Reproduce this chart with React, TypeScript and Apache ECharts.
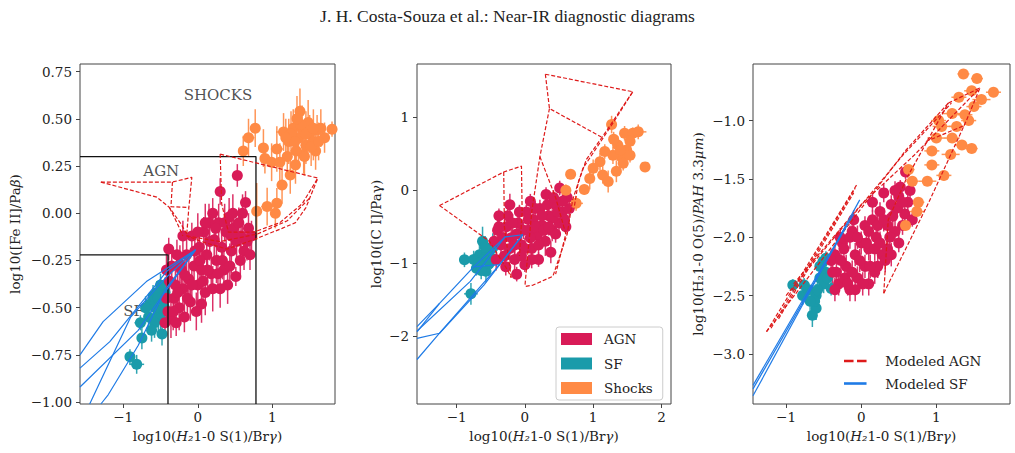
import React, { useEffect, useRef } from "react";
import * as echarts from "echarts";

// ---------- DATA ----------
const TITLE = "J. H. Costa-Souza et al.: Near-IR diagnostic diagrams";

// tick values
const X_TICKS_1 = [-1, 0, 1];
const Y_TICKS_1 = [-1, -0.75, -0.5, -0.25, 0, 0.25, 0.5, 0.75];
const X_TICKS_2 = [-1, 0, 1, 2];
const Y_TICKS_2 = [-2, -1, 0, 1];
const X_TICKS_3 = [-1, 0, 1];
const Y_TICKS_3 = [-3, -2.5, -2, -1.5, -1];

// axis ranges
const RANGE_1 = { xmin: -1.58, xmax: 1.84, ymin: -1.01, ymax: 0.79 };
const RANGE_2 = { xmin: -1.58, xmax: 2.14, ymin: -2.93, ymax: 1.73 };
const RANGE_3 = { xmin: -1.44, xmax: 1.98, ymin: -3.43, ymax: -0.515 };

// [x, y, xerr, yerr]
const p1AGN = [
  [-0.39, -0.19, 0.06, 0.06], [-0.35, -0.28, 0.05, 0.1], [-0.38, -0.36, 0.05, 0.08], [-0.32, -0.45, 0.05, 0.1],
  [-0.4, -0.52, 0.04, 0.08], [-0.36, -0.56, 0.05, 0.1], [-0.29, -0.58, 0.03, 0.07], [-0.25, -0.5, 0.05, 0.12],
  [-0.2, -0.4, 0.06, 0.1], [-0.22, -0.3, 0.05, 0.09], [-0.15, -0.22, 0.05, 0.1], [-0.12, -0.35, 0.05, 0.12],
  [-0.1, -0.47, 0.05, 0.1], [-0.05, -0.28, 0.06, 0.1], [0.0, -0.38, 0.04, 0.12], [0.02, -0.18, 0.05, 0.08],
  [0.05, -0.3, 0.06, 0.1], [0.08, -0.1, 0.05, 0.08], [0.1, -0.42, 0.05, 0.12], [0.12, -0.22, 0.05, 0.1],
  [0.15, -0.05, 0.06, 0.1], [0.18, -0.32, 0.05, 0.1], [0.22, -0.14, 0.05, 0.09], [0.25, -0.25, 0.05, 0.12],
  [0.28, -0.05, 0.04, 0.1], [0.3, 0.115, 0.04, 0.07], [0.32, -0.18, 0.05, 0.1], [0.35, -0.3, 0.05, 0.1],
  [0.38, -0.1, 0.05, 0.08], [0.42, -0.02, 0.05, 0.1], [0.45, -0.2, 0.05, 0.12], [0.48, -0.08, 0.05, 0.1],
  [0.52, -0.15, 0.04, 0.09], [0.53, 0.2, 0.06, 0.06], [0.55, -0.05, 0.05, 0.08], [0.51, -0.335, 0.03, 0.05],
  [0.58, -0.12, 0.05, 0.1], [0.62, -0.2, 0.04, 0.1], [0.64, 0.057, 0.04, 0.06], [0.68, -0.08, 0.05, 0.08],
  [0.7, -0.22, 0.04, 0.08], [-0.28, -0.22, 0.05, 0.08], [-0.18, -0.55, 0.04, 0.08], [-0.08, -0.12, 0.05, 0.07],
  [0.05, -0.48, 0.05, 0.1], [0.2, 0.0, 0.05, 0.08], [0.4, -0.38, 0.04, 0.1], [-0.3, -0.38, 0.05, 0.1],
  [0.1, -0.05, 0.05, 0.1], [-0.42, -0.3, 0.05, 0.1], [-0.42, -0.45, 0.05, 0.1], [-0.44, -0.58, 0.04, 0.06],
  [-0.33, -0.52, 0.05, 0.1], [-0.27, -0.42, 0.05, 0.12], [-0.24, -0.27, 0.05, 0.1], [-0.17, -0.33, 0.05, 0.1],
  [-0.14, -0.45, 0.05, 0.12], [-0.08, -0.38, 0.05, 0.1], [-0.04, -0.2, 0.05, 0.1], [-0.02, -0.52, 0.05, 0.1],
  [0.03, -0.25, 0.05, 0.1], [0.07, -0.36, 0.05, 0.12], [0.13, -0.3, 0.05, 0.1], [0.16, -0.15, 0.05, 0.1],
  [0.2, -0.4, 0.05, 0.12], [0.24, -0.08, 0.05, 0.1], [0.27, -0.32, 0.05, 0.1], [0.33, -0.25, 0.05, 0.1],
  [0.36, -0.05, 0.05, 0.1], [0.43, -0.28, 0.05, 0.12], [0.47, 0.0, 0.05, 0.1], [0.57, -0.25, 0.05, 0.1],
  [0.6, 0.0, 0.05, 0.1], [0.66, -0.15, 0.05, 0.1], [0.72, -0.12, 0.04, 0.08], [0.45, -0.12, 0.05, 0.1],
  [0.3, -0.4, 0.05, 0.1], [-0.2, -0.12, 0.05, 0.08], [0.0, -0.1, 0.05, 0.1],
];
const p1SF = [
  [-0.64, -0.48, 0.06, 0.06], [-0.48, -0.46, 0.05, 0.08], [-0.53, -0.53, 0.05, 0.1], [-0.77, -0.58, 0.08, 0.04],
  [-0.75, -0.66, 0.05, 0.06], [-0.48, -0.64, 0.04, 0.06], [-0.91, -0.76, 0.04, 0.04], [-0.82, -0.8, 0.1, 0.05],
  [-0.44, -0.42, 0.04, 0.08], [-0.57, -0.5, 0.05, 0.08], [-0.66, -0.55, 0.05, 0.07], [-0.5, -0.38, 0.04, 0.06],
  [-0.6, -0.44, 0.05, 0.06], [-0.55, -0.42, 0.05, 0.06], [-0.5, -0.56, 0.05, 0.08], [-0.45, -0.5, 0.04, 0.08],
  [-0.58, -0.58, 0.05, 0.08], [-0.7, -0.5, 0.05, 0.06], [-0.62, -0.62, 0.05, 0.06], [-0.53, -0.45, 0.05, 0.06],
];
const p1Shocks = [
  [0.77, 0.45, 0.06, 0.1], [0.68, 0.4, 0.08, 0.1], [0.61, 0.33, 0.06, 0.08], [0.88, 0.345, 0.05, 0.1],
  [0.9, 0.29, 0.05, 0.08], [0.99, 0.27, 0.06, 0.1], [1.06, 0.34, 0.08, 0.12], [1.13, 0.15, 0.07, 0.1],
  [0.93, 0.035, 0.08, 0.1], [1.06, 0.053, 0.06, 0.08], [0.79, 0.01, 0.05, 0.15], [1.04, 0.0, 0.05, 0.08],
  [1.37, 0.54, 0.06, 0.12], [1.8, 0.445, 0.05, 0.04], [1.31, 0.256, 0.06, 0.1], [1.24, 0.203, 0.05, 0.1],
  [1.42, 0.31, 0.06, 0.1], [1.7, 0.4, 0.06, 0.08], [1.15, 0.43, 0.1, 0.1], [1.22, 0.38, 0.08, 0.12],
  [1.28, 0.45, 0.06, 0.1], [1.35, 0.4, 0.1, 0.15], [1.4, 0.45, 0.08, 0.12], [1.45, 0.36, 0.07, 0.1],
  [1.5, 0.42, 0.08, 0.1], [1.55, 0.38, 0.06, 0.1], [1.6, 0.44, 0.07, 0.08], [1.48, 0.48, 0.06, 0.12],
  [1.32, 0.33, 0.08, 0.1], [1.58, 0.33, 0.05, 0.1], [1.65, 0.45, 0.05, 0.1], [1.2, 0.3, 0.07, 0.1],
  [1.1, 0.27, 0.06, 0.1], [1.25, 0.42, 0.08, 0.12], [1.38, 0.47, 0.06, 0.1], [1.45, 0.42, 0.08, 0.12],
  [1.52, 0.35, 0.06, 0.1], [1.62, 0.38, 0.06, 0.1], [1.3, 0.38, 0.08, 0.12], [1.18, 0.4, 0.06, 0.1],
  [1.33, 0.5, 0.06, 0.12], [1.43, 0.3, 0.06, 0.1], [1.55, 0.45, 0.07, 0.1],
];

const p2AGN = [
  [-0.4, -0.55, 0.05, 0.15], [-0.35, -0.75, 0.05, 0.2], [-0.3, -0.9, 0.05, 0.15], [-0.25, -0.35, 0.06, 0.1],
  [-0.2, -0.65, 0.05, 0.2], [-0.15, -0.95, 0.05, 0.15], [-0.1, -0.45, 0.05, 0.15], [-0.05, -0.75, 0.06, 0.2],
  [0.0, -1.02, 0.05, 0.1], [0.02, -0.3, 0.05, 0.1], [0.05, -0.55, 0.06, 0.15], [0.1, -0.8, 0.05, 0.2],
  [0.12, -0.4, 0.05, 0.12], [0.18, -0.62, 0.05, 0.15], [0.22, -0.25, 0.05, 0.12], [0.25, -0.48, 0.06, 0.15],
  [0.3, -0.7, 0.05, 0.2], [0.31, -0.06, 0.05, 0.1], [0.35, -0.35, 0.05, 0.12], [0.4, -0.55, 0.06, 0.15],
  [0.45, -0.2, 0.05, 0.12], [0.51, 0.03, 0.05, 0.1], [0.5, -0.45, 0.05, 0.12], [0.55, -0.3, 0.05, 0.12],
  [0.6, -0.5, 0.05, 0.1], [0.65, -0.25, 0.05, 0.12], [-0.38, -0.35, 0.05, 0.1], [-0.28, -1.05, 0.05, 0.12],
  [-0.12, -1.15, 0.05, 0.1], [0.08, -0.15, 0.05, 0.1], [-0.42, -0.95, 0.05, 0.15], [0.2, -0.95, 0.05, 0.1],
  [0.62, -0.1, 0.05, 0.1], [-0.22, -0.2, 0.05, 0.15], [0.38, -0.85, 0.05, 0.15], [-0.45, -0.7, 0.05, 0.15],
  [-0.38, -0.5, 0.05, 0.12], [-0.32, -0.65, 0.05, 0.15], [-0.27, -0.5, 0.05, 0.12], [-0.22, -0.8, 0.05, 0.15],
  [-0.18, -0.45, 0.05, 0.12], [-0.12, -0.6, 0.05, 0.15], [-0.08, -0.3, 0.05, 0.1], [-0.02, -0.55, 0.05, 0.12],
  [0.0, -0.8, 0.05, 0.15], [0.05, -0.4, 0.05, 0.12], [0.08, -0.65, 0.05, 0.15], [0.15, -0.5, 0.05, 0.12],
  [0.15, -0.25, 0.05, 0.1], [0.2, -0.75, 0.05, 0.15], [0.25, -0.35, 0.05, 0.12], [0.28, -0.55, 0.05, 0.12],
  [0.33, -0.2, 0.05, 0.1], [0.4, -0.38, 0.05, 0.12], [0.42, -0.1, 0.05, 0.1], [0.48, -0.3, 0.05, 0.12],
  [0.55, -0.15, 0.05, 0.1], [0.58, -0.4, 0.05, 0.12], [0.45, -0.6, 0.05, 0.12], [-0.15, -0.75, 0.05, 0.15],
  [0.1, -0.95, 0.05, 0.12], [-0.05, -0.9, 0.05, 0.12], [0.35, -0.5, 0.05, 0.12],
];
const p2SF = [
  [-0.885, -0.954, 0.05, 0.1], [-0.665, -0.886, 0.06, 0.15], [-0.79, -1.42, 0.1, 0.15], [-0.62, -0.7, 0.05, 0.2],
  [-0.57, -1.11, 0.05, 0.15], [-0.49, -0.93, 0.05, 0.15], [-0.71, -1.07, 0.05, 0.1], [-0.47, -0.79, 0.05, 0.2],
  [-0.55, -0.85, 0.05, 0.15], [-0.75, -0.95, 0.06, 0.12], [-0.6, -0.95, 0.05, 0.12], [-0.52, -1.0, 0.05, 0.12],
  [-0.68, -1.0, 0.05, 0.1], [-0.58, -0.78, 0.05, 0.15], [-0.64, -1.1, 0.05, 0.12],
];
const p2Shocks = [
  [0.67, 0.22, 0.05, 0.06], [0.6, 0.0, 0.06, 0.08], [0.87, 0.01, 0.05, 0.05], [0.75, -0.18, 0.1, 0.1],
  [0.95, 0.16, 0.06, 0.15], [1.14, 0.21, 0.08, 0.12], [1.22, 0.12, 0.06, 0.15], [1.27, 0.9, 0.05, 0.12],
  [1.34, 0.26, 0.06, 0.15], [1.41, 0.46, 0.05, 0.12], [1.29, 0.48, 0.06, 0.12], [1.46, 0.78, 0.05, 0.1],
  [1.58, 0.78, 0.1, 0.08], [1.66, 0.8, 0.12, 0.1], [1.76, 0.32, 0.04, 0.04], [1.54, 0.67, 0.06, 0.1],
  [1.49, 0.55, 0.05, 0.1], [1.1, 0.39, 0.05, 0.12], [1.17, 0.53, 0.06, 0.1], [1.36, 0.62, 0.08, 0.12],
  [1.0, 0.3, 0.05, 0.12], [1.44, 0.37, 0.06, 0.1], [1.54, 0.48, 0.05, 0.1], [1.3, 0.7, 0.06, 0.1],
  [1.4, 0.55, 0.06, 0.12],
];

const p3AGN = [
  [-0.38, -2.3, 0.04, 0.1], [-0.35, -2.15, 0.05, 0.08], [-0.3, -2.4, 0.04, 0.1], [-0.25, -2.05, 0.05, 0.08],
  [-0.2, -2.25, 0.05, 0.1], [-0.15, -2.45, 0.04, 0.1], [-0.12, -1.95, 0.05, 0.08], [-0.08, -2.15, 0.05, 0.1],
  [-0.05, -2.35, 0.04, 0.1], [0.0, -2.05, 0.05, 0.1], [0.05, -1.9, 0.05, 0.08], [0.05, -2.25, 0.04, 0.1],
  [0.1, -2.1, 0.05, 0.1], [0.15, -1.85, 0.05, 0.08], [0.18, -2.3, 0.05, 0.1], [0.2, -2.0, 0.05, 0.1],
  [0.25, -1.78, 0.05, 0.08], [0.28, -2.15, 0.04, 0.1], [0.35, -1.9, 0.05, 0.1], [0.35, -2.1, 0.04, 0.1],
  [0.4, -1.72, 0.05, 0.08], [0.45, -1.95, 0.05, 0.1], [0.5, -1.65, 0.05, 0.08], [0.5, -2.05, 0.05, 0.08],
  [0.52, -1.57, 0.04, 0.06], [0.59, -1.44, 0.04, 0.06], [0.58, -1.8, 0.05, 0.08], [0.62, -1.7, 0.04, 0.08],
  [0.68, -1.85, 0.04, 0.06], [-0.28, -2.0, 0.04, 0.08], [-0.1, -1.85, 0.05, 0.08], [0.1, -2.4, 0.04, 0.1],
  [0.3, -1.62, 0.05, 0.08], [-0.22, -2.35, 0.05, 0.1], [0.22, -2.25, 0.04, 0.1], [-0.4, -2.2, 0.04, 0.1],
  [-0.33, -2.3, 0.04, 0.1], [-0.27, -2.2, 0.04, 0.1], [-0.23, -2.1, 0.04, 0.1], [-0.18, -2.4, 0.04, 0.1],
  [-0.15, -2.0, 0.04, 0.1], [-0.12, -2.3, 0.04, 0.1], [-0.05, -2.0, 0.04, 0.1], [-0.02, -2.2, 0.04, 0.1],
  [0.02, -2.4, 0.04, 0.1], [0.07, -2.05, 0.04, 0.1], [0.1, -1.95, 0.04, 0.1], [0.12, -2.25, 0.04, 0.1],
  [0.18, -2.1, 0.04, 0.1], [0.22, -1.9, 0.04, 0.1], [0.25, -2.05, 0.04, 0.1], [0.3, -1.85, 0.04, 0.1],
  [0.32, -2.2, 0.04, 0.1], [0.38, -2.0, 0.04, 0.1], [0.42, -1.82, 0.04, 0.1], [0.45, -1.6, 0.04, 0.08],
  [0.48, -1.75, 0.04, 0.08], [0.55, -1.7, 0.04, 0.08], [0.55, -1.9, 0.04, 0.08], [0.65, -1.6, 0.04, 0.08],
  [-0.35, -2.45, 0.04, 0.1], [-0.08, -2.45, 0.04, 0.1], [0.15, -1.7, 0.04, 0.08], [0.4, -2.15, 0.04, 0.1],
];
const p3SF = [
  [-0.91, -2.41, 0.05, 0.05], [-0.76, -2.41, 0.05, 0.06], [-0.78, -2.5, 0.05, 0.08], [-0.51, -2.21, 0.05, 0.06],
  [-0.47, -2.3, 0.05, 0.08], [-0.6, -2.5, 0.05, 0.1], [-0.6, -2.61, 0.05, 0.1], [-0.65, -2.67, 0.04, 0.1],
  [-0.4, -2.44, 0.04, 0.06], [-0.47, -2.18, 0.05, 0.06], [-0.55, -2.35, 0.05, 0.08], [-0.62, -2.55, 0.05, 0.1],
  [-0.7, -2.45, 0.05, 0.06], [-0.5, -2.4, 0.05, 0.08], [-0.55, -2.25, 0.05, 0.08], [-0.45, -2.35, 0.05, 0.08],
  [-0.58, -2.45, 0.05, 0.08], [-0.68, -2.55, 0.05, 0.08],
];
const p3Shocks = [
  [1.36, -0.6, 0.08, 0.02], [1.54, -0.64, 0.08, 0.02], [1.47, -0.745, 0.1, 0.03], [1.76, -0.757, 0.1, 0.03],
  [1.6, -0.82, 0.12, 0.03], [1.38, -0.95, 0.1, 0.03], [1.21, -0.94, 0.12, 0.03], [1.07, -1.05, 0.12, 0.03],
  [1.27, -1.05, 0.1, 0.03], [1.43, -1.0, 0.1, 0.03], [1.0, -1.15, 0.12, 0.03], [1.21, -1.15, 0.1, 0.03],
  [1.34, -1.21, 0.1, 0.03], [1.47, -1.24, 0.08, 0.03], [1.19, -1.29, 0.12, 0.03], [0.94, -1.38, 0.1, 0.03],
  [1.1, -1.47, 0.1, 0.03], [0.88, -1.52, 0.12, 0.03], [0.68, -1.52, 0.08, 0.03], [0.76, -1.7, 0.08, 0.03],
  [0.74, -1.78, 0.1, 0.03], [0.59, -1.9, 0.06, 0.03], [0.63, -1.42, 0.08, 0.03], [0.94, -1.26, 0.1, 0.03],
  [1.03, -1.0, 0.1, 0.03], [1.5, -0.88, 0.1, 0.03], [1.3, -0.8, 0.1, 0.03],
];

// model grids (polylines)
const p1ModelAGN = [
  [[-1.3, 0.165], [-0.34, 0.165], [-0.08, 0.19], [-0.12, 0.03], [-0.15, -0.12]],
  [[-1.3, 0.165], [-0.55, 0.085], [-0.38, 0.03], [-0.22, -0.06], [-0.12, -0.13]],
  [[-0.34, 0.165], [-0.36, 0.035], [-0.12, 0.03]],
  [[-0.38, 0.03], [-0.28, -0.05], [-0.2, -0.12]],
  [[0.3, 0.313], [1.61, 0.186], [1.45, 0.03], [1.31, -0.05], [1.13, -0.08], [0.75, -0.14], [0.39, -0.19], [0.05, -0.15], [-0.15, -0.12]],
  [[0.3, 0.313], [0.32, 0.05], [0.41, -0.1], [0.75, -0.1], [1.1, -0.05], [1.4, 0.05], [1.61, 0.186]],
  [[-0.15, -0.12], [0.3, -0.15], [0.8, -0.11], [1.2, -0.04], [1.5, 0.08]],
];
const p1ModelSF = [
  [[-0.03, -0.194], [-0.69, -0.362], [-1.27, -0.574], [-1.58, -0.75]],
  [[-0.03, -0.194], [-0.42, -0.309], [-1.18, -0.68], [-1.58, -0.82]],
  [[-0.03, -0.194], [-0.5, -0.45], [-0.8, -0.62], [-1.58, -0.92]],
  [[-0.03, -0.194], [-0.43, -0.4], [-0.8, -0.7], [-1.2, -0.96], [-1.3, -1.01]],
  [[-0.03, -0.194], [-0.45, -0.35], [-0.9, -0.55], [-1.45, -1.01]],
];
const p2ModelAGN = [
  [[0.3, 1.59], [1.58, 1.35], [1.29, 0.92], [0.85, 0.3], [0.7, -0.13], [0.62, -0.6], [0.41, -1.18], [0.12, -1.3], [0.0, -1.32]],
  [[0.3, 1.59], [0.36, 1.12], [1.12, 0.73]],
  [[0.36, 1.12], [0.22, 0.46], [0.1, -0.3], [0.05, -0.8], [0.0, -1.32]],
  [[0.22, 0.46], [0.45, -0.1], [0.6, -0.6], [0.45, -1.15]],
  [[-1.25, -0.21], [-0.31, 0.25], [-0.05, 0.33], [-0.04, -0.3], [-0.08, -0.9]],
  [[-1.25, -0.21], [-0.52, -0.7], [-0.25, -1.1], [-0.2, -1.2]],
  [[-0.31, 0.25], [-0.3, -0.5], [-0.2, -1.2]],
  [[1.58, 1.35], [1.2, 0.82], [0.9, 0.42], [0.78, 0.1], [0.72, -0.25]],
];
const p2ModelSF = [
  [[-0.03, -0.61], [-0.29, -0.64], [-0.75, -1.05], [-1.25, -1.55], [-1.58, -1.87]],
  [[-0.03, -0.61], [-0.37, -1.02], [-0.75, -1.05]],
  [[-0.29, -0.64], [-0.8, -1.25], [-1.58, -1.93]],
  [[-0.03, -0.61], [-0.6, -1.3], [-1.25, -1.96], [-1.58, -2.03]],
  [[-0.37, -1.02], [-1.25, -1.96], [-1.58, -2.32]],
  [[-1.25, -1.55], [-1.58, -1.94]],
];
const p3ModelAGN = [
  [[-1.26, -2.81], [-0.05, -1.54]],
  [[-1.2, -2.78], [-0.08, -1.58]],
  [[-1.1, -2.7], [-0.1, -1.62]],
  [[-1.26, -2.81], [0.6, -1.25], [1.16, -0.85]],
  [[-1.0, -2.5], [0.55, -1.3], [1.2, -0.85]],
  [[-0.9, -2.4], [0.0, -1.72], [0.7, -1.3], [1.58, -0.72]],
  [[0.3, -2.48], [0.36, -1.85], [0.6, -1.5], [1.16, -0.85]],
  [[0.3, -2.48], [0.9, -1.7], [1.4, -1.0], [1.58, -0.72]],
  [[1.16, -0.85], [1.58, -0.72]],
  [[0.86, -1.18], [1.38, -1.04]],
];
const p3ModelSF = [
  [[-1.44, -3.36], [-0.02, -1.68]],
  [[-1.44, -3.3], [-0.1, -1.8]],
  [[-1.44, -3.27], [-0.2, -1.9]],
];

// diagnostic region boundaries (panel 1)
const p1Bounds = [
  [[-1.58, 0.3], [0.78, 0.3], [0.78, -1.01]],
  [[-1.58, -0.22], [-0.4, -0.22], [-0.4, -1.01]],
];
const p1RegionLabels = [
  { name: "SHOCKS", value: [0.27, 0.627] },
  { name: "AGN", value: [-0.49, 0.224] },
  { name: "SF", value: [-0.86, -0.52] },
];

// ---------- STYLE ----------
const FONT = "'DejaVu Serif', serif";
const C_AGN = "#d81b57";
const C_SF = "#1a9baa";
const C_SH = "#ff8a45";
const C_MAGN = "#de1a1a";
const C_MSF = "#1f7be6";
const TXT = "#222";
const AX = "#444";

const GRIDS = [
  { left: 80, top: 64, width: 255, height: 340 },
  { left: 417, top: 64, width: 254, height: 340 },
  { left: 753, top: 64, width: 257, height: 340 },
];

const minus = (s: string) => s.replace("-", "\u2212");

const RICH = {
  i: { fontStyle: "italic", fontFamily: FONT, fontSize: 13.5, color: TXT },
};

function errSeries(data: number[][], idx: number, color: string) {
  return {
    type: "custom",
    xAxisIndex: idx,
    yAxisIndex: idx,
    data,
    clip: true,
    silent: true,
    z: 2,
    encode: { x: 0, y: 1 },
    renderItem: (params: any, api: any) => {
      const x = api.value(0), y = api.value(1), ex = api.value(2), ey = api.value(3);
      const a = api.coord([x - ex, y]), b = api.coord([x + ex, y]);
      const c = api.coord([x, y - ey]), d = api.coord([x, y + ey]);
      const st = { stroke: color, lineWidth: 1.5, opacity: 0.9 };
      return {
        type: "group",
        children: [
          { type: "line", shape: { x1: a[0], y1: a[1], x2: b[0], y2: b[1] }, style: st },
          { type: "line", shape: { x1: c[0], y1: c[1], x2: d[0], y2: d[1] }, style: st },
        ],
      };
    },
  };
}

function ptSeries(name: string, data: number[][], idx: number, color: string) {
  return {
    type: "scatter",
    name,
    xAxisIndex: idx,
    yAxisIndex: idx,
    data: data.map((d) => [d[0], d[1]]),
    symbolSize: 11,
    itemStyle: { color, opacity: 1 },
    silent: true,
    z: 2,
  };
}

function lineSeries(name: string, lines: number[][][], idx: number, color: string, dashed: boolean, width = 1.2) {
  return lines.map((pts) => ({
    type: "line",
    name,
    xAxisIndex: idx,
    yAxisIndex: idx,
    data: pts,
    symbol: "none",
    color,
    silent: true,
    z: 3,
    lineStyle: { color, width, type: dashed ? [4, 2] : "solid" },
  }));
}

function xAxisCfg(idx: number, r: any, ticks: number[], fmt: (v: number) => string) {
  return {
    type: "value",
    gridIndex: idx,
    min: r.xmin,
    max: r.xmax,
    axisLine: { show: false, onZero: false },
    splitLine: { show: false },
    axisTick: { show: true, length: 4, lineStyle: { color: AX }, customValues: ticks },
    axisLabel: { customValues: ticks, formatter: fmt, fontFamily: FONT, fontSize: 13.5, color: TXT, margin: 6 },
    name: "log10({i|H\u2082}1-0 S(1)/Br{i|\u03b3})",
    nameLocation: "middle",
    nameGap: 25,
    nameTextStyle: { fontFamily: FONT, fontSize: 13.5, color: TXT, rich: RICH },
  };
}

function yAxisCfg(idx: number, r: any, ticks: number[], fmt: (v: number) => string, name: string, gap: number) {
  return {
    type: "value",
    gridIndex: idx,
    min: r.ymin,
    max: r.ymax,
    axisLine: { show: false, onZero: false },
    splitLine: { show: false },
    axisTick: { show: true, length: 4, lineStyle: { color: AX }, customValues: ticks },
    axisLabel: { customValues: ticks, formatter: fmt, fontFamily: FONT, fontSize: 13.5, color: TXT, margin: 8 },
    name,
    nameLocation: "middle",
    nameGap: gap,
    nameTextStyle: { fontFamily: FONT, fontSize: 13.5, color: TXT, rich: RICH },
  };
}

export default function App() {
  const ref = useRef<HTMLDivElement>(null);
  useEffect(() => {
    if (!ref.current) return;
    const chart = echarts.init(ref.current, undefined, { renderer: "svg" });
    const intFmt = (v: number) => minus(String(v));
    const option: any = {
      animation: false,
      backgroundColor: "#fff",
      title: {
        text: TITLE,
        left: "center",
        top: 2,
        textStyle: { fontFamily: "'Liberation Serif', serif", fontSize: 17.5, fontWeight: "normal", color: TXT },
      },
      grid: GRIDS.map((g) => ({ ...g, show: true, borderColor: AX, borderWidth: 1, backgroundColor: "transparent" })),
      xAxis: [
        xAxisCfg(0, RANGE_1, X_TICKS_1, intFmt),
        xAxisCfg(1, RANGE_2, X_TICKS_2, intFmt),
        xAxisCfg(2, RANGE_3, X_TICKS_3, intFmt),
      ],
      yAxis: [
        yAxisCfg(0, RANGE_1, Y_TICKS_1, (v) => minus(v.toFixed(2)), "log10([Fe II]/Pa{i|\u03b2})", 58),
        yAxisCfg(1, RANGE_2, Y_TICKS_2, intFmt, "log10([C I]/Pa\u03b3)", 34),
        yAxisCfg(2, RANGE_3, Y_TICKS_3, (v) => minus(v.toFixed(1)), "log10(H\u20821-0 O(5)/{i|PAH} 3.3{i|\u03bcm})", 48),
      ],
      legend: [
        {
          data: [
            { name: "AGN", icon: "rect" },
            { name: "SF", icon: "rect" },
            { name: "Shocks", icon: "rect" },
          ],
          orient: "vertical",
          left: 556,
          top: 327,
          itemWidth: 31,
          itemHeight: 12,
          itemGap: 10.5,
          padding: [5, 10, 5, 5],
          backgroundColor: "#fff",
          borderColor: "#cccccc",
          borderWidth: 1,
          borderRadius: 3,
          selectedMode: false,
          textStyle: { fontFamily: FONT, fontSize: 13.5, color: TXT, padding: [0, 0, 0, 7] },
        },
        {
          data: [
            { name: "Modeled AGN", icon: "path://M0,0h11v3h-11z M15,0h11v3h-11z" },
            { name: "Modeled SF", icon: "path://M0,0h26v3h-26z" },
          ],
          orient: "vertical",
          left: 844,
          top: 353,
          itemWidth: 26,
          itemHeight: 2.6,
          itemGap: 6.5,
          padding: 0,
          selectedMode: false,
          textStyle: { fontFamily: FONT, fontSize: 13.5, color: TXT, padding: [0, 0, 0, 12], lineHeight: 16 },
        },
      ],
      series: [
        {
          type: "scatter",
          name: "labels",
          xAxisIndex: 0,
          yAxisIndex: 0,
          data: p1RegionLabels,
          symbolSize: 1,
          itemStyle: { color: "transparent" },
          silent: true,
          z: 1,
          label: { show: true, position: "inside", formatter: "{b}", fontFamily: FONT, fontSize: 15, color: TXT },
        },
        ...[
          [p1SF, p1AGN, p1Shocks],
          [p2SF, p2AGN, p2Shocks],
          [p3SF, p3AGN, p3Shocks],
        ].flatMap((grp, i) => [
          errSeries(grp[0], i, C_SF),
          ptSeries("SF", grp[0], i, C_SF),
          errSeries(grp[1], i, C_AGN),
          ptSeries("AGN", grp[1], i, C_AGN),
          errSeries(grp[2], i, C_SH),
          ptSeries("Shocks", grp[2], i, C_SH),
        ]),
        ...p1Bounds.map((pts) => ({
          type: "line",
          name: "bounds",
          xAxisIndex: 0,
          yAxisIndex: 0,
          data: pts,
          symbol: "none",
          silent: true,
          z: 3,
          lineStyle: { color: "#111", width: 1.3 },
        })),
        ...lineSeries("Modeled AGN", p1ModelAGN, 0, C_MAGN, true),
        ...lineSeries("Modeled SF", p1ModelSF, 0, C_MSF, false),
        ...lineSeries("Modeled AGN", p2ModelAGN, 1, C_MAGN, true),
        ...lineSeries("Modeled SF", p2ModelSF, 1, C_MSF, false),
        ...lineSeries("Modeled AGN", p3ModelAGN, 2, C_MAGN, true),
        ...lineSeries("Modeled SF", p3ModelSF, 2, C_MSF, false),
      ],
    };
    chart.setOption(option);
    return () => chart.dispose();
  }, []);
  return <div ref={ref} style={{ position: "fixed", left: 0, top: 0, width: 1015, height: 453 }} />;
}
